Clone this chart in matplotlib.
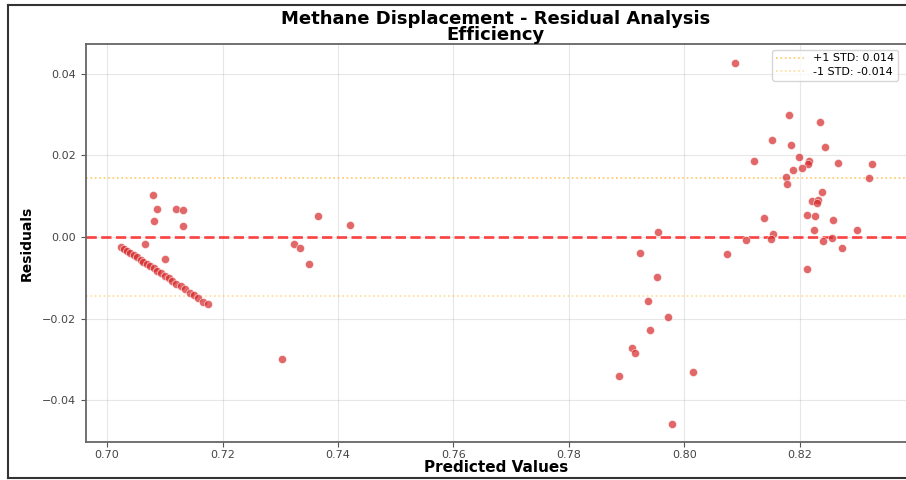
import numpy as np
import matplotlib.pyplot as plt
from matplotlib.lines import Line2D

# predicted values and residuals
pred_diag = [0.7025, 0.7030, 0.7035, 0.7040, 0.7046, 0.7052, 0.7058, 0.7063,
             0.7069, 0.7075, 0.7081, 0.7087, 0.7093, 0.7100, 0.7107, 0.7113,
             0.7120, 0.7128, 0.7135, 0.7143, 0.7150, 0.7158, 0.7167, 0.7175]
resid_diag = [-0.0025, -0.0030, -0.0034, -0.0039, -0.0045, -0.0050, -0.0056, -0.0061,
              -0.0066, -0.0072, -0.0077, -0.0083, -0.0089, -0.0095, -0.0101, -0.0108,
              -0.0114, -0.0121, -0.0128, -0.0136, -0.0142, -0.0150, -0.0160, -0.0164]

pred_low = [0.7080, 0.7086, 0.7081, 0.7119, 0.7132, 0.7132, 0.7065, 0.7100,
            0.7366, 0.7420, 0.7323, 0.7334, 0.7350, 0.7303]
resid_low = [0.0104, 0.0068, 0.0039, 0.0068, 0.0066, 0.0028, -0.0018, -0.0055,
             0.0051, 0.0029, -0.0016, -0.0028, -0.0066, -0.0299]

pred_high = [0.7955, 0.7923, 0.8073, 0.7953, 0.7936, 0.7972, 0.7940, 0.7909,
             0.7914, 0.7887, 0.8014, 0.7979,
             0.8087, 0.8181, 0.8234, 0.8152, 0.8184, 0.8244, 0.8121, 0.8198,
             0.8215, 0.8214, 0.8203, 0.8188, 0.8266, 0.8324, 0.8320, 0.8175,
             0.8178, 0.8239, 0.8221, 0.8231, 0.8229, 0.8212, 0.8226, 0.8137,
             0.8257, 0.8224, 0.8298, 0.8154, 0.8149, 0.8106, 0.8240, 0.8255,
             0.8272, 0.8212]
resid_high = [0.0013, -0.0040, -0.0042, -0.0097, -0.0157, -0.0197, -0.0228, -0.0271,
              -0.0285, -0.0340, -0.0330, -0.0458,
              0.0427, 0.0300, 0.0282, 0.0237, 0.0226, 0.0220, 0.0187, 0.0195,
              0.0186, 0.0179, 0.0169, 0.0165, 0.0181, 0.0178, 0.0144, 0.0148,
              0.0129, 0.0111, 0.0088, 0.0091, 0.0083, 0.0054, 0.0051, 0.0047,
              0.0042, 0.0018, 0.0018, 0.0007, -0.0006, -0.0007, -0.0009, -0.0002,
              -0.0027, -0.0079]

std_val = 0.0144
std_labels = ['+1 STD: 0.014', '-1 STD: -0.014']

predicted = np.array(pred_diag + pred_low + pred_high)
residuals = np.array(resid_diag + resid_low + resid_high)

fig = plt.figure(figsize=(9.06, 4.8), dpi=100)
ax = fig.add_axes([86/906, 1 - 442/480, 820/906, 398/480])

ax.scatter(predicted, residuals, s=34, c='#d62728', alpha=0.7,
           edgecolors='white', linewidths=0.5, zorder=3)
ax.axhline(0, color='red', linestyle='--', linewidth=2, alpha=0.7)
ax.axhline(std_val, color='orange', linestyle=':', linewidth=1.2, alpha=0.6, label=std_labels[0])
ax.axhline(-std_val, color='orange', linestyle=':', linewidth=1.2, alpha=0.4, label=std_labels[1])

ax.set_xlim(0.69636, 0.83836)
ax.set_ylim(-0.0502, 0.04727)
ax.set_xticks([0.70, 0.72, 0.74, 0.76, 0.78, 0.80, 0.82])
ax.set_yticks([-0.04, -0.02, 0.00, 0.02, 0.04])
ax.set_xticklabels(['0.70', '0.72', '0.74', '0.76', '0.78', '0.80', '0.82'])
ax.set_yticklabels(['\u22120.04', '\u22120.02', '0.00', '0.02', '0.04'])
ax.tick_params(labelsize=8, labelcolor='#444444', color='#555555')
ax.tick_params(axis='x', pad=2)
ax.grid(True, alpha=0.3)
for side in ['left', 'bottom', 'top']:
    ax.spines[side].set_color('#666666')
    ax.spines[side].set_linewidth(1.3)
ax.spines['right'].set_visible(False)

ax.set_xlabel('Predicted Values', fontsize=11, fontweight='bold', labelpad=0)
ax.set_ylabel('Residuals', fontsize=10, fontweight='bold', labelpad=6)
ax.set_title('Methane Displacement - Residual Analysis\nEfficiency',
             fontsize=13, fontweight='bold', linespacing=0.85, pad=3)

ax.legend(loc='upper right', fontsize=8, framealpha=0.8, borderpad=0.35,
          labelspacing=0.3, handlelength=2.5, bbox_to_anchor=(0.997, 1.0))

# outer frame around the picture
frame_col = '#333333'
fig.add_artist(Line2D([8/906, 8/906], [2/480, 475/480], color=frame_col, lw=1.5))
fig.add_artist(Line2D([8/906, 1.0], [475/480, 475/480], color=frame_col, lw=1.5))
fig.add_artist(Line2D([8/906, 1.0], [2/480, 2/480], color=frame_col, lw=1.5))

fig.savefig('out.png', dpi=100)
